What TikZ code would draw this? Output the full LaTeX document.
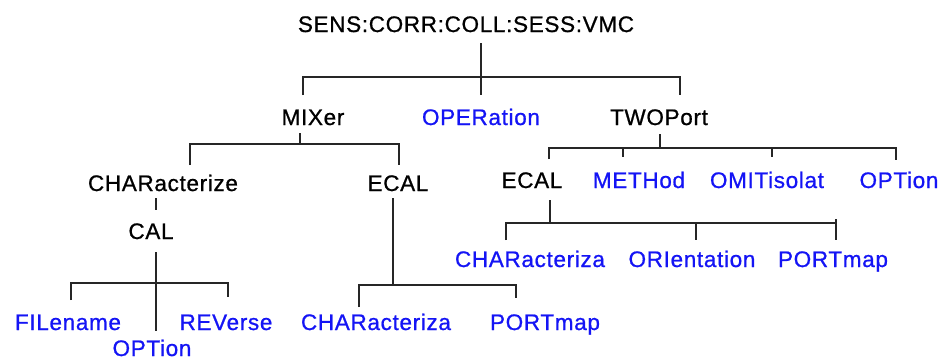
\documentclass[tikz,border=0pt]{standalone}
\usepackage{fontspec}
\setmainfont{Liberation Sans}[LetterSpace=3,FakeBold=0.8]
\definecolor{cmdblue}{RGB}{20,20,245}
\begin{document}
\begin{tikzpicture}[x=1pt,y=-1pt,
  lbl/.style={anchor=base, inner sep=0pt, font=\fontsize{22.5}{26}\selectfont},
  cmd/.style={lbl, text=black},
  leaf/.style={lbl, text=cmdblue},
  wire/.style={line width=1.3pt, draw=black!85}]
\fill[white] (0,0) rectangle (943,360);
\useasboundingbox (0,0) rectangle (943,360);

% nodes
\node[cmd]  (root)  at (466,32)  {SENS:CORR:COLL:SESS:VMC};
\node[cmd]  (mix)   at (313,125) {MIXer};
\node[leaf] (oper)  at (481,125) {OPERation};
\node[cmd]  (two)   at (659,125) {TWOPort};
\node[cmd]  (char)  at (163,191) {CHARacterize};
\node[cmd]  (ecalm) at (398,191) {ECAL};
\node[cmd]  (ecalt) at (532,188) {ECAL};
\node[leaf] (meth)  at (639,188) {METHod};
\node[leaf] (omit)  at (767,188) {OMITisolat};
\node[leaf] (optt)  at (899,188) {OPTion};
\node[cmd]  (cal)   at (151,239) {CAL};
\node[leaf] (file)  at (68,330)  {FILename};
\node[leaf] (optc)  at (152,356) {OPTion};
\node[leaf] (rev)   at (226,330) {REVerse};
\node[leaf] (charm) at (376,330) {CHARacteriza};
\node[leaf] (portm) at (545,330) {PORTmap};
\node[leaf] (chart) at (530,267) {CHARacteriza};
\node[leaf] (orie)  at (692,267) {ORIentation};
\node[leaf] (portt) at (833,267) {PORTmap};

% junction coordinates
\coordinate (r0) at (481,43);  \coordinate (r1) at (481,77);
\coordinate (rl) at (303,77);  \coordinate (rr) at (680,77);
\coordinate (rlm) at (303,95); \coordinate (rmm) at (481,95); \coordinate (rrm) at (680,95);

\coordinate (m0) at (300,133); \coordinate (m1) at (300,144);
\coordinate (ml) at (190,144); \coordinate (mr) at (399,144);
\coordinate (mlc) at (190,165); \coordinate (mre) at (399,165);

\coordinate (t0) at (660,134); \coordinate (t1) at (660,148);
\coordinate (tl) at (549,148); \coordinate (tr) at (896,148);
\coordinate (ta) at (549,159); \coordinate (tb1) at (623,148); \coordinate (tb) at (623,157);
\coordinate (tc1) at (772,148); \coordinate (tc) at (772,157); \coordinate (td) at (896,160);

\coordinate (c0) at (156,198); \coordinate (c1) at (156,210);

\coordinate (a0) at (156,252); \coordinate (a1) at (156,283);
\coordinate (al) at (71,283);  \coordinate (ar) at (228,283);
\coordinate (alf) at (71,300); \coordinate (amo) at (156,331); \coordinate (arr) at (228,297);

\coordinate (e0) at (393,198); \coordinate (e1) at (393,285);
\coordinate (el) at (359,285); \coordinate (er) at (516,285);
\coordinate (elc) at (359,307); \coordinate (erp) at (516,298);

\coordinate (f0) at (550,200); \coordinate (f1) at (550,223);
\coordinate (fl) at (506,223); \coordinate (fr) at (836,223);
\coordinate (flc) at (506,240); \coordinate (fm1) at (696,223); \coordinate (fmo) at (696,240);
\coordinate (frt) at (836,219); \coordinate (frp) at (836,240);

% connectors
\draw[wire] (r0) -- (r1);
\draw[wire] (rlm) -- (rl) -- (rr) -- (rrm);
\draw[wire] (r1) -- (rmm);

\draw[wire] (m0) -- (m1);
\draw[wire] (mlc) -- (ml) -- (mr) -- (mre);

\draw[wire] (t0) -- (t1);
\draw[wire] (ta) -- (tl) -- (tr) -- (td);
\draw[wire] (tb1) -- (tb);
\draw[wire] (tc1) -- (tc);

\draw[wire] (c0) -- (c1);

\draw[wire] (a0) -- (amo);
\draw[wire] (alf) -- (al) -- (ar) -- (arr);

\draw[wire] (e0) -- (e1);
\draw[wire] (elc) -- (el) -- (er) -- (erp);

\draw[wire] (f0) -- (f1);
\draw[wire] (flc) -- (fl) -- (fr) -- (frp);
\draw[wire] (fr) -- (frt);
\draw[wire] (fm1) -- (fmo);
\end{tikzpicture}
\end{document}
